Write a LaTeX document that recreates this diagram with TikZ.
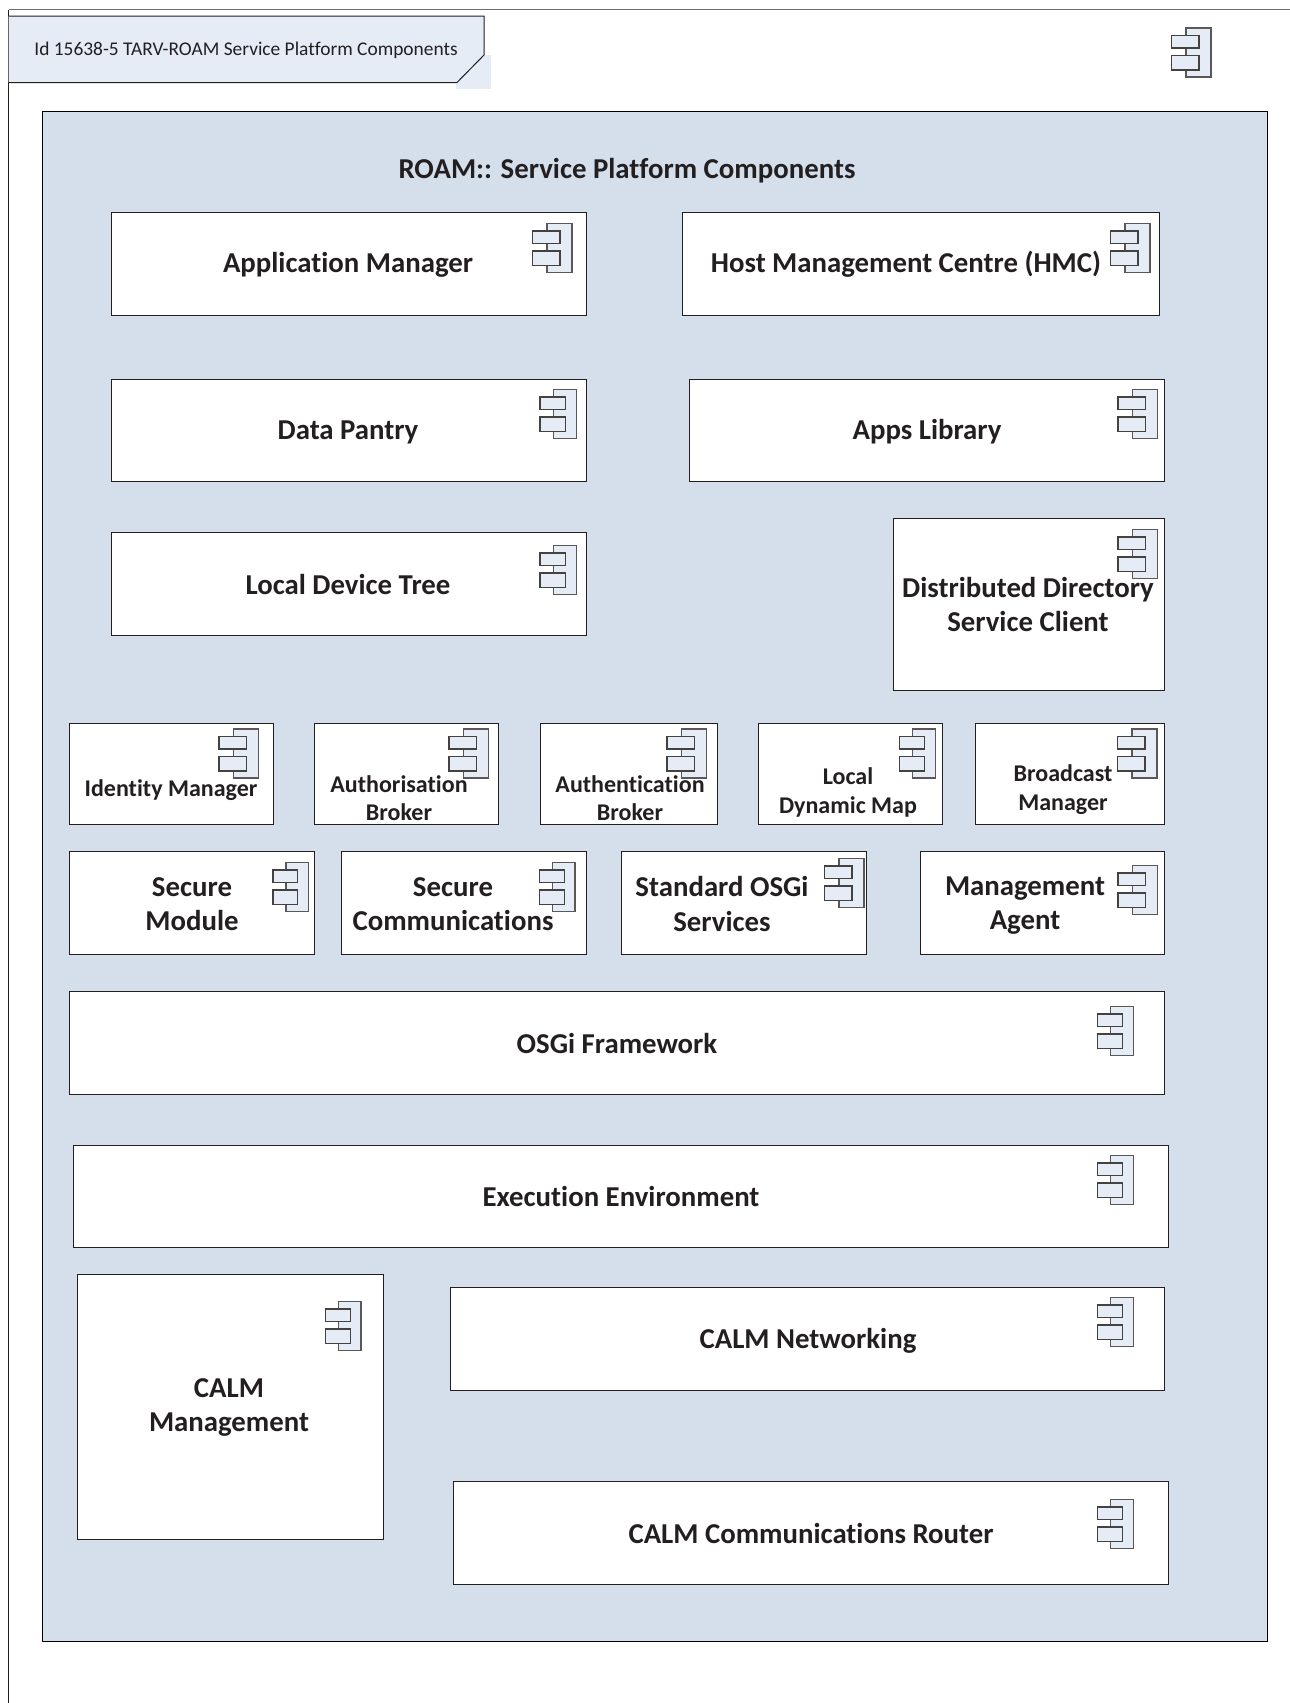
\documentclass[tikz,border=0pt]{standalone}
\usepackage{fontspec}
\setmainfont[Ligatures=CommonOff]{Carlito}
\usepackage{tikz}

\definecolor{tabblue}{HTML}{E6ECF6}
\definecolor{panelblue}{HTML}{D4DFEB}
\definecolor{inkdark}{HTML}{231F20}

\tikzset{
  compbox/.style={draw=inkdark,fill=white,line width=1pt,anchor=north west,inner sep=0pt},
  boxtext/.style={text=inkdark,align=center,inner sep=0pt,font=\bfseries\fontsize{28.8}{34.5}\selectfont},
  smalltext/.style={text=inkdark,align=center,inner sep=0pt,font=\bfseries\fontsize{24}{28.5}\selectfont},
  compicon/.pic={
    \draw[draw=inkdark!75,fill=tabblue,line width=1.2pt] (14.5,0) rectangle (39.5,49);
    \draw[draw=inkdark!85,fill=tabblue,line width=1.2pt] (0,7.5) rectangle (27.5,20);
    \draw[draw=inkdark!85,fill=tabblue,line width=1.2pt] (0,27.5) rectangle (27.5,42);
  }
}

\begin{document}
\begin{tikzpicture}[x=1pt,y=-1pt]
   \useasboundingbox (0,0) rectangle (1290,1703);

   % frame and tab
   \fill[white] (0,0) rectangle (1290,1703);
   \fill[tabblue] (456,55) rectangle (491,89);
   \draw[draw=inkdark!65,line width=1pt] (8.5,9.5) -- (1290,9.5);
   \draw[draw=inkdark,line width=1pt] (8.5,9.5) -- (8.5,1703);
   \draw[draw=inkdark,fill=tabblue,line width=1pt] (8.5,16) -- (484,16) -- (484,55) -- (457,82.5) -- (8.5,82.5);
   \node[text=inkdark,inner sep=0pt,font=\fontsize{19.4}{24}\selectfont] (tabtext) at (246,50) {Id 15638-5 TARV-ROAM Service Platform Components};
   \pic at (1171.5,28) {compicon};

   % panel
   \node[draw=black,fill=panelblue,line width=1.3pt,anchor=north west,inner sep=0pt,minimum width=1225,minimum height=1530] (panel) at (42,111) {};
   \node[boxtext] (paneltext) at (627,171) {ROAM:: Service Platform Components};

   % upper components
   \node[compbox,minimum width=475,minimum height=102.5] (appmgr) at (110.5,212) {};
   \node[boxtext] (appmgrtext) at (348,265) {Application Manager};
   \pic at (532.5,223.5) {compicon};

   \node[compbox,minimum width=476.5,minimum height=102.5] (hmc) at (682,212) {};
   \node[boxtext] (hmctext) at (906,264) {Host Management Centre (HMC)};
   \pic at (1110.5,223.5) {compicon};

   \node[compbox,minimum width=475,minimum height=102] (pantry) at (110.5,379) {};
   \node[boxtext] (pantrytext) at (348,432) {Data Pantry};
   \pic[xscale=.92] at (540,389.5) {compicon};

   \node[compbox,minimum width=475.5,minimum height=102] (appslib) at (688.5,379) {};
   \node[boxtext] (appslibtext) at (927,432) {Apps Library};
   \pic at (1118,389.5) {compicon};

   \node[compbox,minimum width=475,minimum height=103] (devtree) at (110.5,532) {};
   \node[boxtext] (devtreetext) at (348,584) {Local Device Tree};
   \pic[xscale=.92] at (540,545.5) {compicon};

   \node[compbox,minimum width=271.5,minimum height=172] (ddsc) at (892.5,518) {};
   \node[boxtext] (ddsctext) at (1028,604.5) {Distributed Directory\\Service Client};
   \pic at (1118,529.5) {compicon};

   % small components
   \node[compbox,minimum width=204,minimum height=101] (identity) at (69,723) {};
   \node[smalltext] (identitytext) at (171,790.5) {Identity Manager};
   \pic at (219,729) {compicon};

   \node[compbox,minimum width=184,minimum height=101] (authorisation) at (314,723) {};
   \node[smalltext] (authorisationtext) at (399,798) {Authorisation\\Broker};
   \pic at (449,729) {compicon};

   \node[compbox,minimum width=177.5,minimum height=101] (authentication) at (539.5,723) {};
   \node[smalltext] (authenticationtext) at (630,798) {Authentication\\Broker};
   \pic at (667,729) {compicon};

   \node[compbox,minimum width=184,minimum height=101] (dynmap) at (757.5,723) {};
   \node[smalltext] (dynmaptext) at (848,792.5) {Local\\Dynamic Map};
   \pic[xscale=.92] at (899.5,729) {compicon};

   \node[compbox,minimum width=189,minimum height=101] (broadcast) at (975,723) {};
   \node[smalltext] (broadcasttext) at (1063,789.5) {Broadcast\\Manager};
   \pic at (1117.5,729) {compicon};

   % service components
   \node[compbox,minimum width=245,minimum height=103] (secmodule) at (69,851) {};
   \node[boxtext] (secmoduletext) at (192,904) {Secure\\Module};
   \pic[xscale=.9] at (273,862.5) {compicon};

   \node[compbox,minimum width=245,minimum height=103] (seccomms) at (341,851) {};
   \node[boxtext] (seccommstext) at (453,904) {Secure\\Communications};
   \pic[xscale=.9] at (539.5,862.5) {compicon};

   \node[compbox,minimum width=245,minimum height=103] (stdosgi) at (620.5,851) {};
   \node[boxtext] (stdosgitext) at (722,904) {Standard OSGi\\Services};
   \pic at (824.5,858.5) {compicon};

   \node[compbox,minimum width=244,minimum height=103] (mgmtagent) at (919.5,851) {};
   \node[boxtext] (mgmtagenttext) at (1025,905.5) {Management\\Agent};
   \pic at (1118,865.5) {compicon};

   % platform layers
   \node[compbox,minimum width=1095,minimum height=103] (osgi) at (69,991) {};
   \node[boxtext] (osgitext) at (617,1043) {OSGi Framework};
   \pic[xscale=.92] at (1097.5,1006.5) {compicon};

   \node[compbox,minimum width=1095,minimum height=102] (execenv) at (73,1145) {};
   \node[boxtext] (execenvtext) at (621,1196.5) {Execution Environment};
   \pic[xscale=.92] at (1097.5,1155.5) {compicon};

   \node[compbox,minimum width=306,minimum height=265] (calmmgmt) at (76.5,1274) {};
   \node[boxtext] (calmmgmttext) at (229,1407.5) {CALM\\Management};
   \pic[xscale=.9] at (325.5,1301.5) {compicon};

   \node[compbox,minimum width=714,minimum height=103] (calmnet) at (449.5,1287) {};
   \node[boxtext] (calmnettext) at (808,1341) {CALM Networking};
   \pic[xscale=.92] at (1097.5,1297.5) {compicon};

   \node[compbox,minimum width=715,minimum height=103] (router) at (453,1481) {};
   \node[boxtext] (routertext) at (811,1533) {CALM Communications Router};
   \pic[xscale=.92] at (1097.5,1499.5) {compicon};
\end{tikzpicture}
\end{document}
